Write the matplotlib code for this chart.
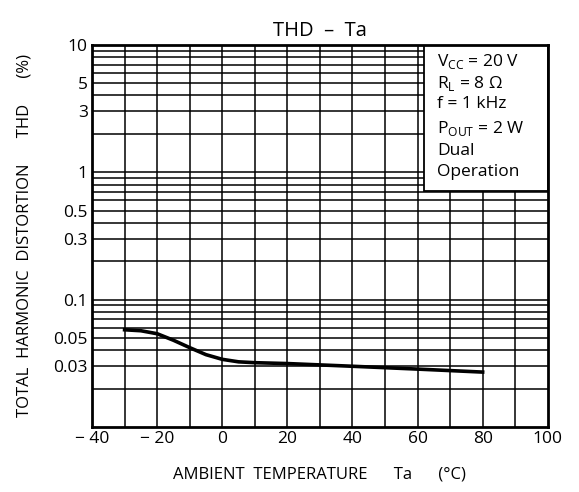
import numpy as np
import matplotlib.pyplot as plt
from matplotlib.patches import Rectangle

plt.rcParams['font.family'] = ['Open Sans', 'DejaVu Sans']
plt.rcParams['mathtext.fontset'] = 'custom'
plt.rcParams['mathtext.rm'] = 'Open Sans'

# curve
ta = [-30, -25, -20, -15, -10, -5, 0, 5, 10, 20, 40, 60, 80]
thd = [0.058, 0.057, 0.054, 0.048, 0.042, 0.037, 0.034, 0.0325, 0.032, 0.0315, 0.030, 0.0285, 0.027]

xticks = [-40, -20, 0, 20, 40, 60, 80, 100]
xlabels = ['\u2212 40', '\u2212 20', '0', '20', '40', '60', '80', '100']
yticks = [0.03, 0.05, 0.1, 0.3, 0.5, 1, 3, 5, 10]
ylabels = ['0.03', '0.05', '0.1', '0.3', '0.5', '1', '3', '5', '10']

fig = plt.figure(figsize=(5.79, 4.92), dpi=100)
ax = fig.add_axes([0.159, 0.132, 0.787, 0.777])

ax.set_yscale('log')
ax.set_xlim(-40, 100)
ax.set_ylim(0.01, 10)

# grid lines
for x in range(-30, 100, 10):
    ax.axvline(x, color='black', lw=1.1, zorder=1)
for dec in [0.01, 0.1, 1]:
    for m in range(1, 10):
        v = dec * m
        if 0.01 < v < 10:
            ax.axhline(v, color='black', lw=1.1, zorder=1)

# condition box
ax.add_patch(Rectangle((62, 0.71), 38, 9.29, facecolor='white', edgecolor='black', lw=1.3, zorder=2))
cond = ['V$_{\\rm CC}$ = 20 V', 'R$_{\\rm L}$ = 8 \u03a9', 'f = 1 kHz', 'P$_{\\rm OUT}$ = 2 W', 'Dual', 'Operation']
ys = [7.4, 5.0, 3.4, 2.2, 1.48, 1.0]
for t, y in zip(cond, ys):
    ax.text(66, y, t, fontsize=12.5, va='center', ha='left', zorder=3)

ax.plot(ta, thd, color='black', lw=2.6, zorder=4)

ax.set_xticks(xticks)
ax.set_xticklabels(xlabels, fontsize=12.5)
ax.set_yticks(yticks)
ax.set_yticklabels(ylabels, fontsize=12.5)
ax.yaxis.set_minor_locator(plt.NullLocator())
ax.tick_params(length=0, pad=3)

for s in ax.spines.values():
    s.set_linewidth(2)
    s.set_zorder(5)

ax.set_title('THD  \u2013  Ta', fontsize=14.5, pad=6)
ax.set_xlabel('AMBIENT  TEMPERATURE      Ta      (\u00b0C)', fontsize=12, labelpad=14)
ax.set_ylabel('TOTAL  HARMONIC  DISTORTION      THD      (%)', fontsize=12)
ax.yaxis.set_label_coords(-0.13, 0.5)

fig.savefig('out.png', dpi=100)
